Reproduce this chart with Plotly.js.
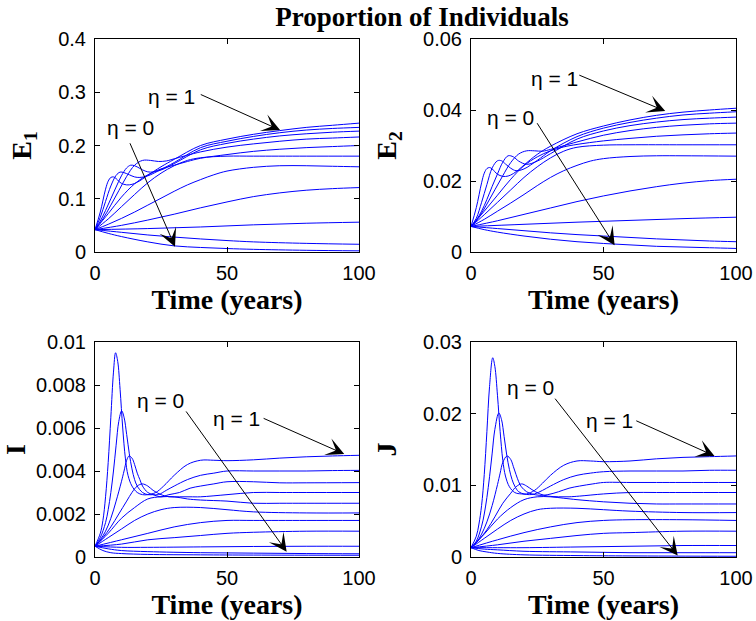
<!DOCTYPE html>
<html><head><meta charset="utf-8">
<script src="https://cdn.plot.ly/plotly-3.0.1.min.js"></script>
<style>html,body{margin:0;padding:0;background:#fff}#chart{width:756px;height:621px}</style>
</head><body><div id="chart"></div>
<script>
// eta values of the 11 curves in every panel (index 0 -> eta = 0, index 10 -> eta = 1)
const eta = [0, 0.1, 0.2, 0.3, 0.4, 0.5, 0.6, 0.7, 0.8, 0.9, 1];

// ---------- E1 ----------
const E1_t = [
  [0,5,10,20,30,40,50,60,80,100],
  [0,10,20,30,40,50,60,80,100],
  [0,20,40,60,80,100],
  [0,10,20,30,40,50,60,70,80,90,100],
  [0,5,10,15,20,25,30,35,40,45,50,60,70,80,90,100],
  [0,5,10,15,20,25,30,35,40,50,60,80,100],
  [0,5,10,15,20,25,30,35,40,50,60,70,80,90,100],
  [0,3,6,9,12,15,18,21,24,27,30,40,50,60,70,80,90,100],
  [0,2,4,6,8,10,12,13.5,15,17,19,21,25,30,40,50,60,70,80,90,100],
  [0,2,4,6,8,9.5,11,13,15,17,20,25,30,40,50,60,70,80,90,100],
  [0,2,4,5,6,7,8,9,10,12,14,16,18,20,25,30,40,50,60,70,80,90,100]
];
const E1_y = [
  [0.042,0.035,0.029,0.019,0.0115,0.0085,0.0065,0.005,0.0032,0.0022],
  [0.042,0.037,0.032,0.028,0.0245,0.0215,0.019,0.0162,0.0145],
  [0.042,0.044,0.047,0.051,0.054,0.056],
  [0.042,0.050,0.060,0.071,0.083,0.094,0.104,0.111,0.116,0.119,0.121],
  [0.042,0.052,0.063,0.075,0.088,0.101,0.114,0.126,0.136,0.145,0.152,0.159,0.162,0.162,0.161,0.160],
  [0.042,0.062,0.085,0.108,0.130,0.148,0.162,0.172,0.177,0.180,0.180,0.180,0.180],
  [0.042,0.072,0.103,0.128,0.145,0.156,0.163,0.170,0.176,0.183,0.189,0.193,0.196,0.198,0.200],
  [0.042,0.062,0.088,0.115,0.142,0.163,0.172,0.172,0.170,0.171,0.175,0.188,0.197,0.203,0.208,0.212,0.214,0.216],
  [0.042,0.058,0.078,0.100,0.122,0.143,0.158,0.163,0.162,0.157,0.152,0.150,0.154,0.166,0.192,0.204,0.212,0.218,0.222,0.225,0.227],
  [0.042,0.065,0.095,0.124,0.144,0.150,0.149,0.145,0.141,0.140,0.143,0.155,0.168,0.196,0.208,0.217,0.224,0.229,0.232,0.234],
  [0.042,0.075,0.118,0.133,0.140,0.141,0.138,0.133,0.129,0.126,0.127,0.131,0.137,0.144,0.160,0.174,0.200,0.212,0.221,0.228,0.234,0.238,0.242]
];

// ---------- E2 ----------
const E2_t = [
  [0,5,10,20,30,40,50,60,70,80,90,100],
  [0,10,20,30,40,50,60,70,80,90,100],
  [0,20,40,60,80,100],
  [0,10,20,30,40,50,60,70,80,90,100],
  [0,5,10,15,20,25,30,35,40,45,50,60,70,80,100],
  [0,5,10,15,20,25,30,35,40,50,60,80,100],
  [0,5,10,15,20,25,30,35,40,50,60,70,80,90,100],
  [0,3,6,9,12,15,18,21,24,27,30,40,50,60,70,80,90,100],
  [0,2,4,6,8,10,12,14,16,18,21,25,30,40,50,60,70,80,90,100],
  [0,2,4,6,8,10,11.5,13,15,17,20,25,30,40,50,60,70,80,90,100],
  [0,2,4,5,6,7,8,9,10,12,14,16,18,20,25,30,40,50,60,70,80,90,100]
];
const E2_y = [
  [0.0072,0.0063,0.0056,0.0045,0.0036,0.0029,0.0024,0.002,0.0016,0.0014,0.0012,0.001],
  [0.0072,0.0066,0.006,0.0054,0.0049,0.0045,0.0041,0.0037,0.0034,0.0031,0.0029],
  [0.0072,0.0078,0.0084,0.0089,0.0094,0.0098],
  [0.0072,0.0088,0.0106,0.0124,0.0142,0.0158,0.0172,0.0184,0.0194,0.0201,0.0205],
  [0.0072,0.0092,0.0115,0.0138,0.0162,0.0187,0.021,0.0229,0.0244,0.0256,0.0263,0.0269,0.0271,0.0271,0.027],
  [0.0072,0.0105,0.014,0.0175,0.021,0.024,0.0265,0.0284,0.0295,0.0301,0.0302,0.0302,0.0302],
  [0.0072,0.0115,0.016,0.0205,0.0243,0.0268,0.0285,0.0296,0.0303,0.0313,0.032,0.0326,0.033,0.0333,0.0335],
  [0.0072,0.0098,0.0135,0.0175,0.0215,0.0252,0.0276,0.0285,0.0285,0.0284,0.0289,0.031,0.0329,0.0342,0.0351,0.0357,0.0361,0.0363],
  [0.0072,0.009,0.0115,0.0148,0.0185,0.022,0.0253,0.0271,0.0268,0.0256,0.0247,0.0256,0.0277,0.0318,0.0341,0.0356,0.0366,0.0373,0.0377,0.038],
  [0.0072,0.0095,0.014,0.019,0.0237,0.0257,0.0257,0.0248,0.0236,0.0229,0.0234,0.0258,0.0285,0.0325,0.0349,0.0365,0.0377,0.0386,0.0391,0.0395],
  [0.0072,0.0125,0.0195,0.0222,0.0235,0.0238,0.0234,0.0226,0.0219,0.0213,0.0214,0.0221,0.0232,0.0245,0.0275,0.0298,0.0333,0.0355,0.0372,0.0385,0.0394,0.04,0.0405]
];

// ---------- I ----------
const I_t = [
  [0,3,6,10,20,40,60,100],
  [0,5,10,20,40,60,80,100],
  [0,10,20,40,60,80,100],
  [0,10,20,30,40,50,60,80,100],
  [0,10,20,30,40,50,60,80,100],
  [0,5,10,15,20,25,30,40,50,60,80,100],
  [0,5,10,15,20,25,30,35,40,50,60,70,80,100],
  [0,3,6,9,12,14,16,17.9,20,22,25,28,32,36,40,50,60,70,80,100],
  [0,2,4,6,8,10,11,12,12.9,14,15,16,17,18,20,22,25,28,32,36,40,45,50,60,70,80,100],
  [0,2,4,5,6,7,8,9,10.1,11,12,13,14,15,16,18,20,22,24,27,30,35,40,45,50,60,70,80,90,100],
  [0,2,3,4,5,6,7,7.8,8.6,9.5,10.5,11.5,12.5,14,16,18,20,23,26,30,35,40,45,50,60,70,80,90,100]
];
const I_y = [
  [0.0005,0.0003,0.0002,0.00016,0.00012,0.0001,0.00009,0.00008],
  [0.0005,0.00038,0.0003,0.00025,0.0002,0.00018,0.00016,0.00015],
  [0.0005,0.00045,0.00045,0.00047,0.00049,0.0005,0.0005],
  [0.0005,0.0006,0.0008,0.0009,0.001,0.0011,0.00115,0.0012,0.0012],
  [0.0005,0.0008,0.0011,0.0014,0.0016,0.0017,0.0017,0.0017,0.0017],
  [0.0005,0.0009,0.0013,0.0017,0.0020,0.0022,0.0023,0.0023,0.0022,0.0021,0.00205,0.00205],
  [0.0005,0.0011,0.0018,0.0023,0.0027,0.0028,0.0028,0.0027,0.00265,0.0026,0.0025,0.0025,0.0025,0.0025],
  [0.0005,0.0009,0.0014,0.0020,0.0026,0.0030,0.0033,0.0034,0.0033,0.0031,0.0029,0.0028,0.0028,0.0028,0.0028,0.0029,0.0030,0.0030,0.0030,0.0030],
  [0.0005,0.0008,0.0012,0.0018,0.0026,0.0035,0.0040,0.0045,0.0047,0.0046,0.0043,0.0039,0.0036,0.0033,0.0030,0.0029,0.0028,0.0029,0.0030,0.0032,0.0033,0.0034,0.0035,0.0035,0.00345,0.00345,0.00346],
  [0.0005,0.0009,0.0016,0.0022,0.0030,0.0040,0.0052,0.0063,0.0068,0.0065,0.0057,0.0048,0.0041,0.0036,0.0033,0.0030,0.0029,0.0029,0.0029,0.0031,0.0033,0.0036,0.0038,0.0039,0.0040,0.0040,0.0040,0.0040,0.00402,0.00403],
  [0.0005,0.0011,0.0017,0.0028,0.0044,0.0065,0.0086,0.0095,0.0091,0.0078,0.0060,0.0046,0.0038,0.0033,0.0030,0.0029,0.0029,0.0030,0.0033,0.0038,0.0043,0.0045,0.0045,0.00448,0.00452,0.0046,0.00466,0.0047,0.00473]
];

// ---------- J ----------
const J_t = [
  [0,3,6,10,20,40,60,100],
  [0,5,10,20,40,60,80,100],
  [0,10,20,40,60,80,100],
  [0,10,20,30,40,50,60,80,100],
  [0,10,20,30,40,50,60,80,100],
  [0,5,10,15,20,25,30,40,50,60,80,100],
  [0,5,10,15,20,25,30,35,40,50,60,70,80,100],
  [0,3,6,9,12,15,17,19.1,21,23,26,29,33,37,41,50,60,70,80,100],
  [0,2,4,6,8,10,11,12,13.6,15,16,17,18,19,21,23,26,29,33,37,41,46,50,60,70,80,100],
  [0,2,4,5,6,7,8,9,10.5,11.5,12.5,13.5,14.5,15.5,16.5,18,20,22,24,27,30,35,40,45,50,60,70,80,90,100],
  [0,2,3,4,5,6,7,8.2,9,10,11,12,13,14.5,16.5,19,21,24,27,30,35,40,45,50,60,70,80,90,100]
];
const J_y = [
  [0.0013,0.0009,0.0007,0.0005,0.0003,0.0002,0.00015,0.0001],
  [0.0013,0.0011,0.001,0.0008,0.0007,0.0006,0.0006,0.0006],
  [0.0013,0.0013,0.0013,0.0014,0.0015,0.0016,0.0016],
  [0.0013,0.0017,0.0022,0.0026,0.003,0.0033,0.0034,0.0036,0.0036],
  [0.0013,0.0024,0.0034,0.0042,0.0048,0.0051,0.0052,0.0052,0.0051],
  [0.0013,0.0026,0.0039,0.0051,0.006,0.0066,0.0068,0.0068,0.0066,0.0064,0.0062,0.0062],
  [0.0013,0.0032,0.0053,0.0069,0.0080,0.0084,0.0084,0.0082,0.008,0.0077,0.0075,0.0074,0.0074,0.0074],
  [0.0013,0.0024,0.0038,0.0056,0.0075,0.0089,0.0098,0.0102,0.0099,0.0094,0.0088,0.0085,0.0084,0.0084,0.0085,0.0088,0.009,0.009,0.009,0.009],
  [0.0013,0.002,0.0032,0.0049,0.0072,0.0101,0.0117,0.0132,0.0141,0.0136,0.0126,0.0115,0.0105,0.0098,0.0091,0.0088,0.0086,0.0087,0.0091,0.0096,0.0099,0.0102,0.0104,0.0104,0.0104,0.0104,0.0104],
  [0.0013,0.0022,0.0043,0.006,0.0083,0.0112,0.0145,0.0178,0.0201,0.0192,0.0168,0.0142,0.0122,0.0108,0.0099,0.0091,0.0088,0.0087,0.0088,0.0093,0.0099,0.0108,0.0114,0.0117,0.0119,0.012,0.012,0.012,0.0121,0.0121],
  [0.0013,0.0029,0.0046,0.0072,0.0115,0.0175,0.0238,0.0278,0.0266,0.0225,0.0175,0.0135,0.0113,0.0098,0.0090,0.0088,0.0088,0.0093,0.0103,0.0114,0.0128,0.0134,0.0134,0.0133,0.0134,0.0137,0.0139,0.0140,0.0141]
];

// ---------- axes ----------
const xTickVals = [0, 50, 100];
const xTickText = ['0', '50', '100'];
const E1_ticks = [0, 0.1, 0.2, 0.3, 0.4];
const E1_tickText = ['0', '0.1', '0.2', '0.3', '0.4'];
const E2_ticks = [0, 0.02, 0.04, 0.06];
const E2_tickText = ['0', '0.02', '0.04', '0.06'];
const I_ticks = [0, 0.002, 0.004, 0.006, 0.008, 0.01];
const I_tickText = ['0', '0.002', '0.004', '0.006', '0.008', '0.01'];
const J_ticks = [0, 0.01, 0.02, 0.03];
const J_tickText = ['0', '0.01', '0.02', '0.03'];

const chartTitle = 'Proportion of Individuals';
const xTitle = 'Time (years)';
const yTitles = ['E<sub>1</sub>', 'E<sub>2</sub>', 'I', 'J'];

const tickFont = {family: 'Arial, "Liberation Sans", sans-serif', size: 20, color: '#000'};
const serifBold = {family: '"Liberation Serif", "Times New Roman", serif', size: 28, color: '#000', weight: 'bold'};
const titleFont = {family: '"Liberation Serif", "Times New Roman", serif', size: 27, color: '#000', weight: 'bold'};

const panels = [
  {t: E1_t, y: E1_y, xa: 'x',  ya: 'y',  ticks: E1_ticks, tickText: E1_tickText, range: [0, 0.4]},
  {t: E2_t, y: E2_y, xa: 'x2', ya: 'y2', ticks: E2_ticks, tickText: E2_tickText, range: [0, 0.06]},
  {t: I_t,  y: I_y,  xa: 'x3', ya: 'y3', ticks: I_ticks,  tickText: I_tickText,  range: [0, 0.01]},
  {t: J_t,  y: J_y,  xa: 'x4', ya: 'y4', ticks: J_ticks,  tickText: J_tickText,  range: [0, 0.03]}
];

const traces = [];
panels.forEach(p => {
  eta.forEach((e, i) => {
    traces.push({
      type: 'scatter', mode: 'lines', x: p.t[i], y: p.y[i],
      xaxis: p.xa, yaxis: p.ya, name: 'η = ' + e,
      line: {color: '#0000ff', width: 1, shape: 'spline', smoothing: 1},
      hoverinfo: 'skip', showlegend: false
    });
  });
});

const W = 756, H = 621;
const xDomL = [95 / W, 359 / W], xDomR = [471 / W, 736 / W];
const yDomT = [1 - 252 / H, 1 - 39 / H], yDomB = [1 - 557 / H, 1 - 342 / H];

function xAxis(domain, anchor) {
  return {
    domain: domain, anchor: anchor, range: [0, 100], tickvals: xTickVals, ticktext: xTickText,
    ticks: 'inside', ticklen: 5, tickwidth: 1, tickcolor: '#000', showline: true, linecolor: '#000',
    linewidth: 1, mirror: 'ticks', showgrid: false, zeroline: false, tickfont: tickFont,
    ticklabelstandoff: 3, automargin: false, fixedrange: true,
    title: {text: xTitle, font: serifBold, standoff: 0}
  };
}
function yAxis(domain, anchor, p, title) {
  return {
    domain: domain, anchor: anchor, range: p.range, tickvals: p.ticks, ticktext: p.tickText,
    ticks: 'inside', ticklen: 5, tickwidth: 1, tickcolor: '#000', showline: true, linecolor: '#000',
    linewidth: 1, mirror: 'ticks', showgrid: false, zeroline: false, tickfont: tickFont,
    ticklabelstandoff: 4, automargin: false, fixedrange: true,
    title: {text: title, font: serifBold, standoff: 18}
  };
}

const annFont = {family: 'Arial, "Liberation Sans", sans-serif', size: 21, color: '#000'};
function label(xr, yr, x, y, text) {
  return {xref: xr, yref: yr, x: x, y: y, text: text, showarrow: false, font: annFont,
          xanchor: 'center', yanchor: 'middle'};
}
function arrow(xr, yr, x0, y0, x1, y1) {
  return {xref: xr, yref: yr, axref: xr, ayref: yr, ax: x0, ay: y0, x: x1, y: y1, text: '',
          showarrow: true, arrowhead: 3, arrowsize: 3, arrowwidth: 1, arrowcolor: '#000',
          standoff: 0, startstandoff: 0};
}

const annotations = [
  label('x', 'y', 29, 0.292, 'η = 1'), arrow('x', 'y', 39.5, 0.297, 70.1, 0.229),
  label('x', 'y', 13.3, 0.233, 'η = 0'), arrow('x', 'y', 13, 0.207, 30.3, 0.010),
  label('x2', 'y2', 31.6, 0.0489, 'η = 1'), arrow('x2', 'y2', 40.3, 0.0500, 73.3, 0.0397),
  label('x2', 'y2', 14.9, 0.038, 'η = 0'), arrow('x2', 'y2', 24.6, 0.0367, 54.2, 0.0019),
  label('x3', 'y3', 24.9, 0.0073, 'η = 0'), arrow('x3', 'y3', 34.1, 0.00684, 72.6, 0.00025),
  label('x3', 'y3', 53.7, 0.00645, 'η = 1'), arrow('x3', 'y3', 63.3, 0.00648, 94.4, 0.00479),
  label('x4', 'y4', 22.5, 0.0237, 'η = 0'), arrow('x4', 'y4', 31.3, 0.0223, 78, 0.0002),
  label('x4', 'y4', 52.2, 0.0191, 'η = 1'), arrow('x4', 'y4', 61.8, 0.0191, 91.9, 0.0141)
];

const layout = {
  width: W, height: H, margin: {l: 0, r: 0, t: 0, b: 0},
  paper_bgcolor: '#fff', plot_bgcolor: '#fff', showlegend: false,
  title: {text: chartTitle, font: titleFont, x: 422 / W, xanchor: 'center',
          xref: 'paper', yref: 'container', y: 1 - 17 / H, yanchor: 'middle',
          pad: {t: 0, b: 0, l: 0, r: 0}},
  xaxis: xAxis(xDomL, 'y'), yaxis: yAxis(yDomT, 'x', panels[0], yTitles[0]),
  xaxis2: xAxis(xDomR, 'y2'), yaxis2: yAxis(yDomT, 'x2', panels[1], yTitles[1]),
  xaxis3: xAxis(xDomL, 'y3'), yaxis3: yAxis(yDomB, 'x3', panels[2], yTitles[2]),
  xaxis4: xAxis(xDomR, 'y4'), yaxis4: yAxis(yDomB, 'x4', panels[3], yTitles[3]),
  annotations: annotations
};

Plotly.newPlot('chart', traces, layout, {displayModeBar: false, responsive: false, staticPlot: true});
</script></body></html>
